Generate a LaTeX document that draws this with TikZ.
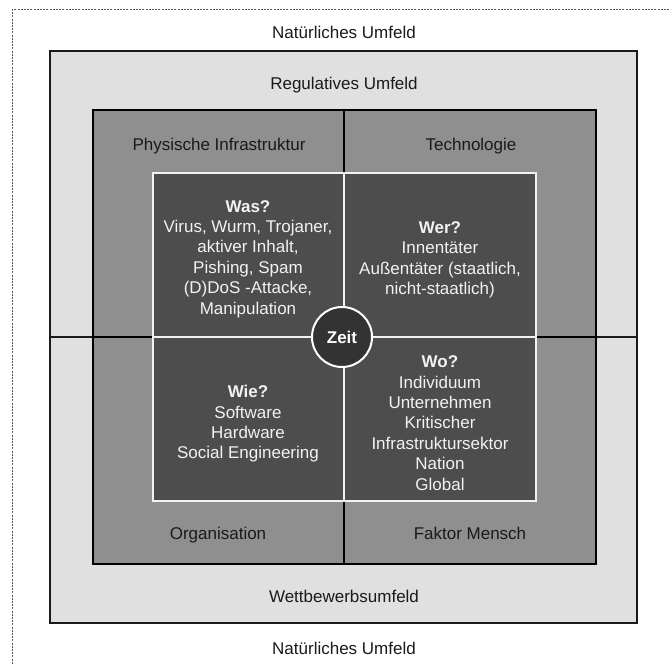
\documentclass[tikz,border=0pt]{standalone}
\usepackage{fontspec}
\setmainfont{Liberation Sans}
\definecolor{lightbg}{HTML}{E0E0E0}
\definecolor{midbg}{HTML}{8F8F8F}
\definecolor{darkbg}{HTML}{4D4D4D}
\definecolor{zeitbg}{HTML}{333333}
\definecolor{inkdark}{HTML}{1A1A1A}
\definecolor{inklight}{HTML}{F2F2F2}
\begin{document}
\begin{tikzpicture}[x=1pt,y=-1pt,
  lightbox/.style={fill=lightbg,draw=inkdark,line width=1.2pt},
  midbox/.style={fill=midbg,draw=black,line width=1.6pt},
  darkbox/.style={fill=darkbg,draw=inklight,line width=1.5pt},
  lbl/.style={text=inkdark,font=\fontsize{17}{20.4}\selectfont,inner sep=0pt,text height=12.2pt,text depth=0pt},
  inner/.style={text=inklight,font=\fontsize{17}{20.4}\selectfont,align=center,inner sep=0pt},
  zeitnode/.style={circle,fill=zeitbg,draw=white,line width=2pt,minimum size=60pt,inner sep=0pt,text=white,font=\fontsize{17}{20.4}\selectfont\bfseries}]
\useasboundingbox (0,0) rectangle (670,664);
\begin{scope}
\clip (0,0) rectangle (670,664);
\draw[dashed,draw=gray!70!black,line width=1pt,dash pattern=on 2pt off 1.2pt] (12,9) rectangle (690,690);
\end{scope}
% light gray environment
\path[lightbox] (50,51) rectangle (637,337);
\path[lightbox] (50,337) rectangle (637,623);
% medium quadrants
\path[midbox] (93,110) rectangle (344,337);
\path[midbox] (344,110) rectangle (596,337);
\path[midbox] (93,337) rectangle (344,564);
\path[midbox] (344,337) rectangle (596,564);
% dark quadrants
\path[darkbox] (153,173) rectangle (344,337);
\path[darkbox] (344,173) rectangle (536,337);
\path[darkbox] (153,337) rectangle (344,501);
\path[darkbox] (344,337) rectangle (536,501);
% labels
\node[lbl] (natTop) at (344,32) {Natürliches Umfeld};
\node[lbl] (reg) at (344,83) {Regulatives Umfeld};
\node[lbl] (phys) at (219,144) {Physische Infrastruktur};
\node[lbl] (tech) at (471,144) {Technologie};
\node[lbl] (org) at (218,533) {Organisation};
\node[lbl] (faktor) at (470,533) {Faktor Mensch};
\node[lbl] (wett) at (344,596) {Wettbewerbsumfeld};
\node[lbl] (natBot) at (344,648) {Natürliches Umfeld};
% inner texts
\node[inner] (was) at (248,259) {\textbf{Was?}\\Virus, Wurm, Trojaner,\\aktiver Inhalt,\\Pishing, Spam\\(D)DoS -Attacke,\\Manipulation};
\node[inner] (wer) at (440,260) {\textbf{Wer?}\\Innentäter\\Außentäter (staatlich,\\nicht-staatlich)};
\node[inner] (wie) at (248,424) {\textbf{Wie?}\\Software\\Hardware\\Social Engineering};
\node[inner] (wo) at (440,423) {\textbf{Wo?}\\Individuum\\Unternehmen\\Kritischer\\Infrastruktursektor\\Nation\\Global};
% center
\node[zeitnode] (zeit) at (342,337) {Zeit};
\end{tikzpicture}
\end{document}
